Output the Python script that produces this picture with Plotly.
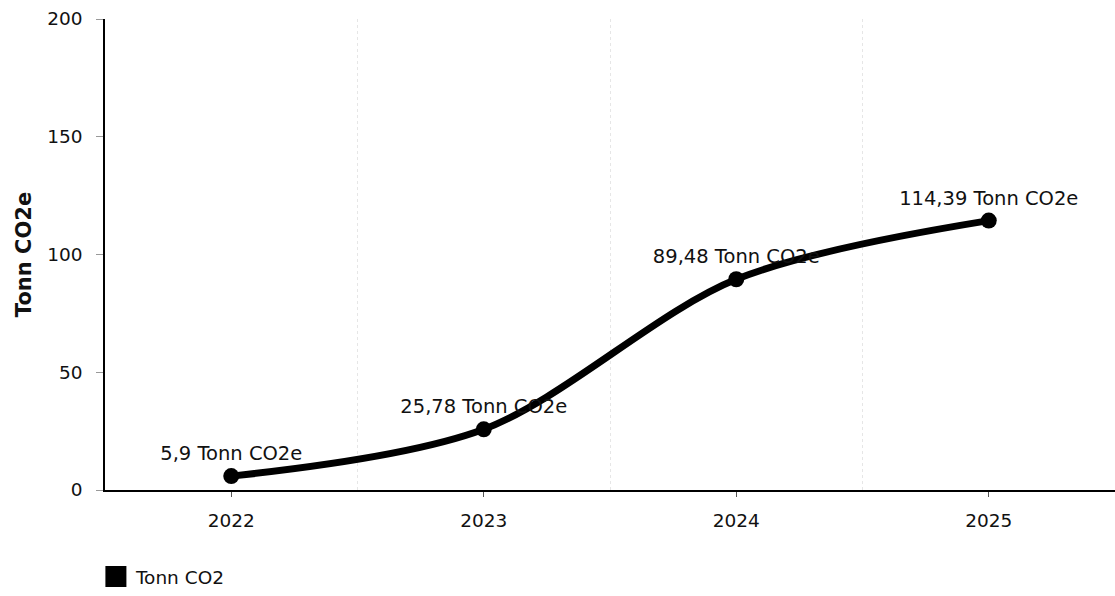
import plotly.graph_objects as go

years = ["2022", "2023", "2024", "2025"]
values = [5.9, 25.78, 89.48, 114.39]
unit = "Tonn CO2e"
series_name = "Tonn CO2"
y_ticks = [0, 50, 100, 150, 200]
grid_positions = [0.5, 1.5, 2.5]

labels = [f"{str(v).replace('.', ',')} {unit}" for v in values]

font_family = "DejaVu Sans, Verdana, sans-serif"

fig = go.Figure()
fig.add_trace(go.Scatter(
    x=years, y=values, mode="lines+markers+text",
    line=dict(color="black", width=7, shape="spline", smoothing=0.9),
    marker=dict(color="black", size=16),
    text=labels, textposition="top center",
    textfont=dict(family=font_family, size=19.5, color="#111"),
    showlegend=False, cliponaxis=False,
))
fig.add_trace(go.Scatter(
    x=[None], y=[None], mode="markers", name=series_name, xaxis="x2",
    marker=dict(color="black", size=22, symbol="square",
                line=dict(color="black", width=6)),
))

fig.update_layout(
    width=1115, height=596,
    margin=dict(l=105, r=0, t=19, b=104),
    plot_bgcolor="white", paper_bgcolor="white",
    font=dict(family=font_family, size=18.5, color="#111"),
    legend=dict(orientation="h", x=-0.009, xanchor="left", y=-0.145, yanchor="top",
                font=dict(size=18.5), itemsizing="trace"),
    xaxis=dict(
        type="category", range=[-0.5, 3.5], automargin=False,
        showline=True, linecolor="black", linewidth=1.5,
        ticks="outside", ticklen=5, tickcolor="#555",
        ticklabelstandoff=8,
        showgrid=False, zeroline=False,
        tickfont=dict(size=18.5),
    ),
    xaxis2=dict(
        overlaying="x", anchor="y", range=[-0.5, 3.5], automargin=False,
        tickvals=grid_positions, showticklabels=False, ticks="",
        showgrid=True, gridcolor="#e6e6e6", griddash="dot", gridwidth=1,
        zeroline=False, showline=False,
    ),
    yaxis=dict(
        range=[0, 200], tickvals=y_ticks, automargin=False,
        showline=True, linecolor="black", linewidth=1.5,
        ticks="outside", ticklen=7, tickcolor="#999",
        ticklabelstandoff=10,
        showgrid=False, zeroline=False,
        tickfont=dict(size=18.5),
        title=dict(text="<b>Tonn CO2e</b>", font=dict(size=21), standoff=10),
    ),
)

fig.write_html("out.html", config={"displayModeBar": False},
               post_script="document.body.style.margin='0';")
